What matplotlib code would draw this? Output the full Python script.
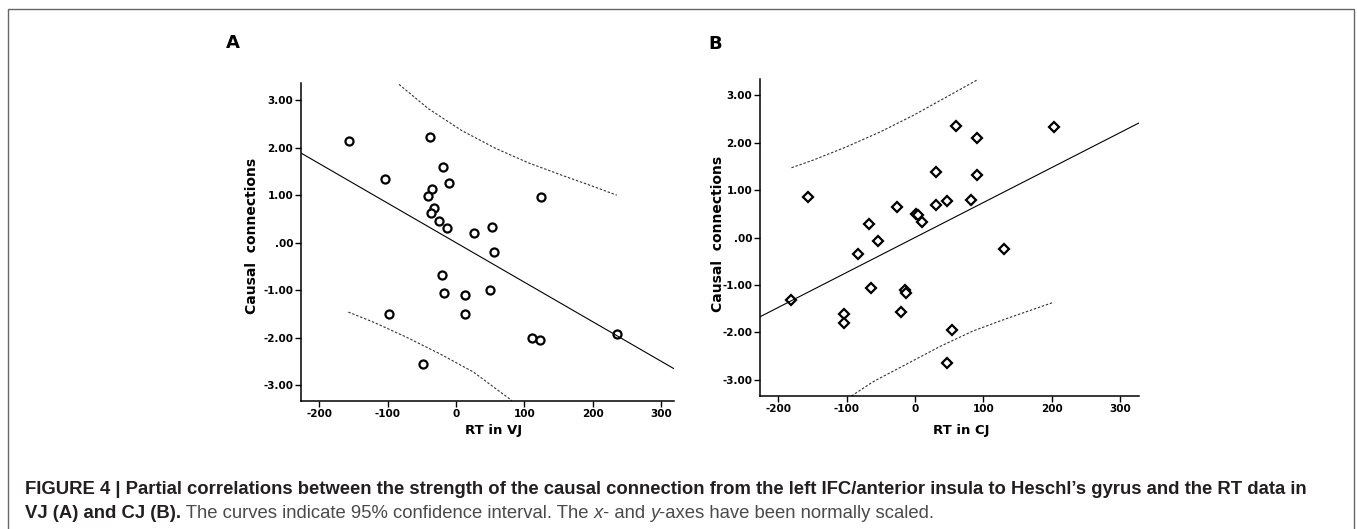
import matplotlib
matplotlib.use("Agg")
import matplotlib.pyplot as plt
from matplotlib.patches import Rectangle

# panel A: RT in VJ vs causal connections
vj_rt = [-156.6, -38, -104, -19.5, -10.7, -34.6, -41, -31.7, -36, -24.9, -13.2, 25.9, 52.7,
         56.1, 124.9, -20.5, -17.6, 12.7, 49.3, 13.2, -98.5, 111.2, 122.9, 235, -47.8]
vj_cc = [2.15, 2.22, 1.33, 1.59, 1.25, 1.14, 0.98, 0.73, 0.62, 0.45, 0.31, 0.21, 0.34,
         -0.20, 0.97, -0.67, -1.06, -1.10, -0.99, -1.51, -1.49, -2.00, -2.05, -1.93, -2.56]
vj_fit = (-0.00831, 0.0)  # slope, intercept
vj_up_x = [-83.5, -40.6, 8.3, 57.1, 105.9, 154.8, 203.5, 235.3]
vj_up_y = [3.33, 2.82, 2.36, 1.99, 1.68, 1.42, 1.17, 1.00]
vj_lo_x = [-157.7, -121.1, -72.2, -23.4, 25.3, 81.6]
vj_lo_y = [-1.46, -1.67, -1.99, -2.34, -2.72, -3.32]

# panel B: RT in CJ vs causal connections
cj_rt = [-181, -157, -104.4, -104.4, -82.9, -67.3, -64.4, -54.1, -26.3, -21, -14.1, -13.2, 2.0,
         4.9, 10.2, 30.2, 30.7, 46.3, 46.3, 54.1, 60.5, 82, 90.7, 91.2, 130.7, 203.4]
cj_cc = [-1.31, 0.86, -1.61, -1.81, -0.34, 0.28, -1.07, -0.08, 0.65, -1.56, -1.10, -1.18, 0.50,
         0.47, 0.32, 1.38, 0.69, 0.76, -2.64, -1.94, 2.35, 0.79, 2.10, 1.31, -0.25, 2.33]
cj_fit = (0.00736, 0.0)
cj_up_x = [-180.9, -149.3, -100.4, -51.7, -2.9, 46.0, 92.2]
cj_up_y = [1.47, 1.63, 1.91, 2.22, 2.57, 2.96, 3.33]
cj_lo_x = [-93.1, -61.5, -12.6, 36.1, 84.9, 133.8, 202]
cj_lo_y = [-3.34, -3.04, -2.67, -2.30, -1.97, -1.71, -1.37]

xticks = [-200, -100, 0, 100, 200, 300]
yticks = [-3, -2, -1, 0, 1, 2, 3]
ytick_labels = ['-3.00', '-2.00', '-1.00', '.00', '1.00', '2.00', '3.00']

W, H = 1357, 529
fig = plt.figure(figsize=(W / 100, H / 100), dpi=100)

def panel(rect, x, y, fit, up, lo, marker, ms, xlab, xlim, ylim, ylab_pos, xlab_pos):
    ax = fig.add_axes(rect)
    ax.plot(x, y, linestyle='none', marker=marker, ms=ms, mfc='white', mec='black', mew=1.6)
    ax.axline((0, fit[1]), slope=fit[0], color='black', lw=0.8)
    for cx, cy in (up, lo):
        ax.plot(cx, cy, color='#333333', lw=0.8, linestyle=(0, (2.2, 1.6)))
    ax.set_xlim(xlim)
    ax.set_ylim(ylim)
    ax.set_xticks(xticks)
    ax.set_xticklabels([str(v) for v in xticks])
    ax.set_yticks(yticks)
    ax.set_yticklabels(ytick_labels)
    for s in ['top', 'right']:
        ax.spines[s].set_visible(False)
    for s in ['left', 'bottom']:
        ax.spines[s].set_linewidth(1.1)
    ax.tick_params(length=4, width=1, labelsize=7.5, pad=1.5)
    for t in ax.get_xticklabels() + ax.get_yticklabels():
        t.set_fontweight('bold')
    ax.set_ylabel('Causal  connections', fontsize=10, fontweight='bold')
    ax.yaxis.set_label_coords(*ylab_pos)
    ax.set_xlabel(xlab, fontsize=9.5, fontweight='bold')
    ax.xaxis.set_label_coords(*xlab_pos)
    return ax

panel([301 / W, 1 - 401 / H, 373 / W, 318 / H], vj_rt, vj_cc, vj_fit,
      (vj_up_x, vj_up_y), (vj_lo_x, vj_lo_y), 'o', 5.8, 'RT in VJ',
      (-227, 319), (-3.33, 3.36), (-0.113, 0.52), (0.515, -0.072))
panel([760 / W, 1 - 396 / H, 379 / W, 317 / H], cj_rt, cj_cc, cj_fit,
      (cj_up_x, cj_up_y), (cj_lo_x, cj_lo_y), 'D', 5.0, 'RT in CJ',
      (-227, 328), (-3.34, 3.34), (-0.092, 0.51), (0.53, -0.088))

fig.text(233 / W, 1 - 43 / H, 'A', fontsize=13, fontweight='bold', ha='center', va='center')
fig.text(715 / W, 1 - 44 / H, 'B', fontsize=13, fontweight='bold', ha='center', va='center')

# frame around the figure
fig.patches.append(Rectangle((8 / W, -0.02), 1346 / W, 1 - 9 / H + 0.02, transform=fig.transFigure,
                             fill=False, edgecolor='#666666', lw=1))

# caption, built piece by piece
cap_font = ['Liberation Sans Narrow', 'Liberation Sans', 'DejaVu Sans']
renderer = fig.canvas.get_renderer()

def caption_line(pieces, x0, yc, size):
    x = x0
    for txt, weight, style, color in pieces:
        t = fig.text(x, yc, txt, fontsize=size, fontweight=weight, fontstyle=style, color=color,
                     family=cap_font, va='center', ha='left')
        bb = t.get_window_extent(renderer)
        x = bb.x1 / W

dark = '#231f20'
grey = '#4a4a4a'
line1 = [("FIGURE 4 | Partial correlations between the strength of the causal connection from the "
          "left IFC/anterior insula to Heschl\u2019s gyrus and the RT data in", 'bold', 'normal', dark)]
line2 = [("VJ (A) and CJ (B).", 'bold', 'normal', dark),
         (" The curves indicate 95% confidence interval. The ", 'normal', 'normal', grey),
         ("x", 'normal', 'italic', grey),
         ("- and ", 'normal', 'normal', grey),
         ("y", 'normal', 'italic', grey),
         ("-axes have been normally scaled.", 'normal', 'normal', grey)]
caption_line(line1, 25 / W, 1 - 489 / H, 13.35)
caption_line(line2, 25 / W, 1 - 514 / H, 13.35)

fig.savefig('out.png', dpi=100)
